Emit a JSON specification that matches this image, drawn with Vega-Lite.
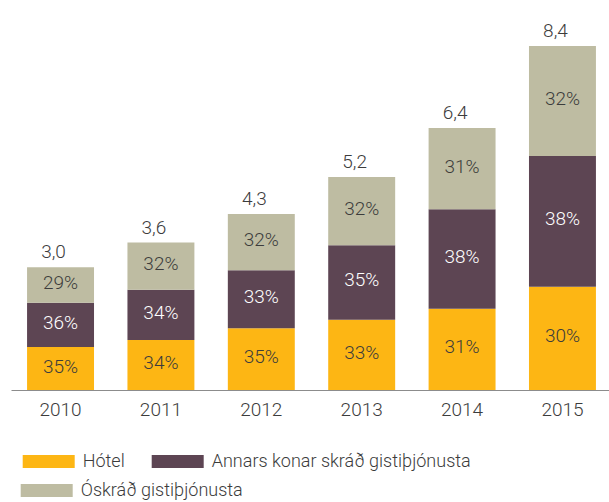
{
  "$schema": "https://vega.github.io/schema/vega-lite/v6.json",
  "width": 601,
  "height": 389,
  "autosize": "none",
  "padding": {"left": 11, "top": 1, "right": 0, "bottom": 112},
  "background": "white",
  "config": {
    "view": {"stroke": null},
    "font": "Roboto",
    "axis": {"labelFont": "Roboto"},
    "legend": {"labelFont": "Roboto"}
  },
  "datasets": {
    "shares": [
      {"year": "2010", "category": "Hótel", "order": 1, "share": 0.35, "value": 1.05},
      {"year": "2010", "category": "Annars konar skráð gistiþjónusta", "order": 2, "share": 0.36, "value": 1.08},
      {"year": "2010", "category": "Óskráð gistiþjónusta", "order": 3, "share": 0.29, "value": 0.87},
      {"year": "2011", "category": "Hótel", "order": 1, "share": 0.34, "value": 1.224},
      {"year": "2011", "category": "Annars konar skráð gistiþjónusta", "order": 2, "share": 0.34, "value": 1.224},
      {"year": "2011", "category": "Óskráð gistiþjónusta", "order": 3, "share": 0.32, "value": 1.152},
      {"year": "2012", "category": "Hótel", "order": 1, "share": 0.35, "value": 1.505},
      {"year": "2012", "category": "Annars konar skráð gistiþjónusta", "order": 2, "share": 0.33, "value": 1.419},
      {"year": "2012", "category": "Óskráð gistiþjónusta", "order": 3, "share": 0.32, "value": 1.376},
      {"year": "2013", "category": "Hótel", "order": 1, "share": 0.33, "value": 1.716},
      {"year": "2013", "category": "Annars konar skráð gistiþjónusta", "order": 2, "share": 0.35, "value": 1.82},
      {"year": "2013", "category": "Óskráð gistiþjónusta", "order": 3, "share": 0.32, "value": 1.664},
      {"year": "2014", "category": "Hótel", "order": 1, "share": 0.31, "value": 1.984},
      {"year": "2014", "category": "Annars konar skráð gistiþjónusta", "order": 2, "share": 0.38, "value": 2.432},
      {"year": "2014", "category": "Óskráð gistiþjónusta", "order": 3, "share": 0.31, "value": 1.984},
      {"year": "2015", "category": "Hótel", "order": 1, "share": 0.30, "value": 2.52},
      {"year": "2015", "category": "Annars konar skráð gistiþjónusta", "order": 2, "share": 0.38, "value": 3.192},
      {"year": "2015", "category": "Óskráð gistiþjónusta", "order": 3, "share": 0.32, "value": 2.688}
    ],
    "totals": [
      {"year": "2010", "total": 3.0, "label": "3,0"},
      {"year": "2011", "total": 3.6, "label": "3,6"},
      {"year": "2012", "total": 4.3, "label": "4,3"},
      {"year": "2013", "total": 5.2, "label": "5,2"},
      {"year": "2014", "total": 6.4, "label": "6,4"},
      {"year": "2015", "total": 8.4, "label": "8,4"}
    ]
  },
  "layer": [
    {
      "data": {"name": "shares"},
      "mark": {"type": "bar"},
      "encoding": {
        "x": {
          "field": "year", "type": "ordinal",
          "scale": {"paddingInner": 0.333, "paddingOuter": 0.16},
          "axis": {
            "title": null, "labelAngle": 0, "ticks": false,
            "domainColor": "#8c8c8c", "domainWidth": 1,
            "labelFontSize": 19, "labelFontWeight": 300, "labelColor": "#3c3c3c", "labelPadding": 10
          }
        },
        "y": {
          "field": "value", "type": "quantitative", "stack": "zero",
          "scale": {"domain": [0, 9.5], "nice": false}, "axis": null
        },
        "fill": {
          "field": "category", "type": "nominal",
          "scale": {
            "domain": ["Hótel", "Annars konar skráð gistiþjónusta", "Óskráð gistiþjónusta"],
            "range": ["#FDB614", "#5D4553", "#BEBCA2"]
          },
          "legend": {
            "title": null, "orient": "none", "legendX": 11.7, "legendY": 434.5,
            "direction": "horizontal", "columns": 2,
            "values": ["Hótel", "Annars konar skráð gistiþjónusta"],
            "symbolType": "M-1,-0.25H1V0.25H-1Z", "symbolSize": 2704,
            "symbolStrokeWidth": 0, "symbolOpacity": 1,
            "labelFontSize": 18, "labelFontWeight": 300, "labelColor": "#3c3c3c", "labelOffset": 8, "labelLimit": 0,
            "columnPadding": 27, "padding": 0
          }
        },
        "order": {"field": "order", "type": "quantitative"}
      }
    },
    {
      "data": {"name": "shares"},
      "mark": {"type": "bar", "opacity": 0},
      "encoding": {
        "x": {"field": "year", "type": "ordinal"},
        "y": {"field": "value", "type": "quantitative", "stack": "zero"},
        "color": {
          "field": "category", "type": "nominal",
          "scale": {
            "domain": ["Óskráð gistiþjónusta"],
            "range": ["#BEBCA2"]
          },
          "legend": {
            "title": null, "orient": "none", "legendX": 9.7, "legendY": 463.5,
            "direction": "horizontal",
            "symbolType": "M-1,-0.25H1V0.25H-1Z", "symbolSize": 2704,
            "symbolStrokeWidth": 0, "symbolOpacity": 1,
            "labelFontSize": 18, "labelFontWeight": 300, "labelColor": "#3c3c3c", "labelOffset": 8, "labelLimit": 0,
            "padding": 0
          }
        },
        "order": {"field": "order", "type": "quantitative"}
      }
    },
    {
      "data": {"name": "shares"},
      "mark": {"type": "text", "fontSize": 19, "fontWeight": 300, "baseline": "middle", "dy": -2},
      "encoding": {
        "x": {"field": "year", "type": "ordinal"},
        "y": {"field": "value", "type": "quantitative", "stack": "zero", "bandPosition": 0.5},
        "text": {"field": "share", "type": "quantitative", "format": ".0%"},
        "fill": {
          "condition": {"test": "datum.category === 'Annars konar skráð gistiþjónusta'", "value": "#ffffff"},
          "value": "#3c3c3c"
        },
        "order": {"field": "order", "type": "quantitative"}
      }
    },
    {
      "data": {"name": "totals"},
      "mark": {"type": "text", "fontSize": 19, "fontWeight": 300, "baseline": "alphabetic", "dx": -7, "dy": -9, "color": "#3c3c3c"},
      "encoding": {
        "x": {"field": "year", "type": "ordinal"},
        "y": {"field": "total", "type": "quantitative"},
        "text": {"field": "label", "type": "nominal"}
      }
    }
  ]
}
